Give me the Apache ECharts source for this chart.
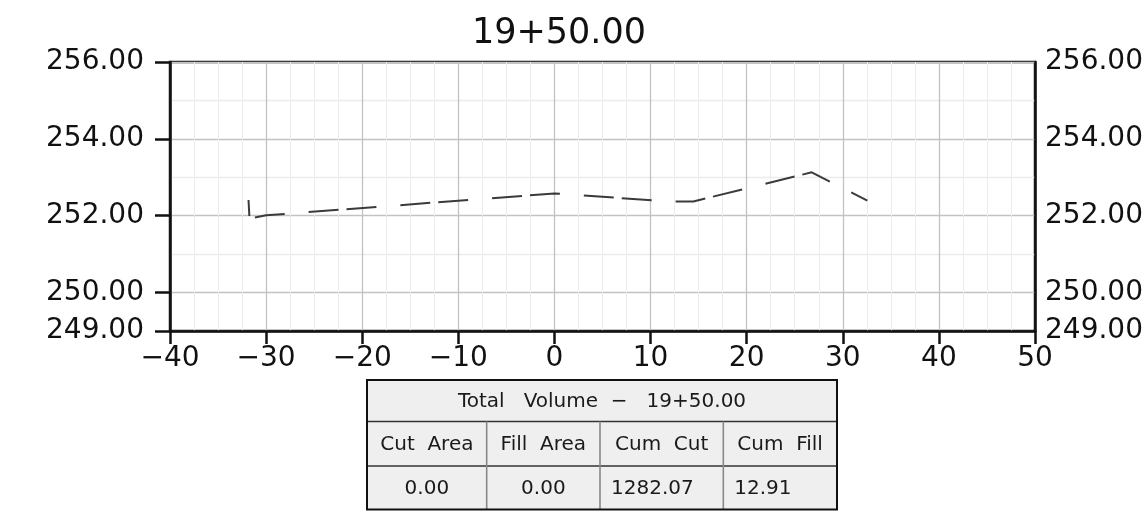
<!DOCTYPE html>
<html>
<head>
<meta charset="utf-8">
<script src="https://cdn.jsdelivr.net/npm/echarts@6/dist/echarts.min.js"></script>
<style>html,body{margin:0;padding:0;background:#fff}#c{width:1144px;height:516px}</style>
</head>
<body>
<div id="c"></div>
<script>
// ---- data ----
const chartTitle = '19+50.00';
const xTicks = [-40, -30, -20, -10, 0, 10, 20, 30, 40, 50];
const yTicks = [249, 250, 252, 254, 256];
const profileX = [-31.83, -31.73, -30.0, 0.0, 11.9, 14.45, 26.77, 32.56];
const profileY = [252.41, 251.93, 252.01, 252.58, 252.37, 252.37, 253.13, 252.39];
const tableTitle = 'Total   Volume  \u2212   19+50.00';
const tableHeaders = ['Cut  Area', 'Fill  Area', 'Cum  Cut', 'Cum  Fill'];
const tableValues = ['0.00', '0.00', '1282.07', '12.91'];

// ---- layout ----
const FONT = '"DejaVu Sans", sans-serif';
const gridL = 170, gridR = 1144 - 1035, gridT = 62, gridB = 516 - 331;
const tbl = { x0: 367, x1: 837, y0: 380, y1: 421.5, y2: 466, y3: 509.5, cols: [367, 486.7, 600, 723.3, 837] };
const valAlign = ['center', 'center', 'left', 'left'];

const fmtX = v => (v < 0 ? '\u2212' + Math.abs(v) : String(v));
const fmtY = v => Number(v).toFixed(2);

const graphics = [];
graphics.push({ type: 'rect', shape: { x: tbl.x0, y: tbl.y0, width: tbl.x1 - tbl.x0, height: tbl.y3 - tbl.y0 },
  style: { fill: '#efefef', stroke: null }, z: 10 });
[tbl.y1, tbl.y2].forEach(y => graphics.push({ type: 'line', shape: { x1: tbl.x0, y1: y, x2: tbl.x1, y2: y },
  style: { stroke: '#333', lineWidth: 1.6 }, z: 11 }));
tbl.cols.slice(1, -1).forEach(x => graphics.push({ type: 'line', shape: { x1: x, y1: tbl.y1, x2: x, y2: tbl.y3 },
  style: { stroke: '#888', lineWidth: 1.6 }, z: 11 }));
graphics.push({ type: 'rect', shape: { x: tbl.x0, y: tbl.y0, width: tbl.x1 - tbl.x0, height: tbl.y3 - tbl.y0 },
  style: { fill: null, stroke: '#111', lineWidth: 2 }, z: 12 });
graphics.push({ type: 'text', x: (tbl.x0 + tbl.x1) / 2, y: (tbl.y0 + tbl.y1) / 2 + 1, z: 13,
  style: { text: tableTitle, font: '20px ' + FONT, fill: '#1a1a1a', textAlign: 'center', textVerticalAlign: 'middle' } });
tableHeaders.forEach((t, i) => {
  const cx = (tbl.cols[i] + tbl.cols[i + 1]) / 2;
  graphics.push({ type: 'text', x: cx, y: (tbl.y1 + tbl.y2) / 2 + 1, z: 13,
    style: { text: t, font: '20px ' + FONT, fill: '#1a1a1a', textAlign: 'center', textVerticalAlign: 'middle' } });
});
tableValues.forEach((t, i) => {
  const a = valAlign[i];
  const x = a === 'center' ? (tbl.cols[i] + tbl.cols[i + 1]) / 2 : tbl.cols[i] + 11;
  graphics.push({ type: 'text', x: x, y: (tbl.y2 + tbl.y3) / 2 + 1, z: 13,
    style: { text: t, font: '20px ' + FONT, fill: '#1a1a1a', textAlign: a, textVerticalAlign: 'middle' } });
});

const chart = echarts.init(document.getElementById('c'), null, { renderer: 'canvas' });
chart.setOption({
  animation: false,
  backgroundColor: '#fff',
  title: {
    text: chartTitle, left: 554, top: 11, textAlign: 'center',
    textStyle: { fontFamily: FONT, fontSize: 35, fontWeight: 'normal', color: '#111' }
  },
  grid: {
    left: gridL, right: gridR, top: gridT, bottom: gridB,
    containLabel: false, outerBoundsMode: 'none',
    show: true, borderColor: '#111', borderWidth: 2.5, backgroundColor: 'transparent'
  },
  xAxis: [{
    type: 'value', min: xTicks[0], max: xTicks[xTicks.length - 1], interval: 10,
    axisLine: { show: true, onZero: false, lineStyle: { color: '#111', width: 2.5 } },
    axisTick: { show: true, length: 13, lineStyle: { color: '#111', width: 2.5 } },
    axisLabel: { show: true, margin: 14, fontFamily: FONT, fontSize: 28, color: '#111', formatter: fmtX,
      showMinLabel: true, showMaxLabel: true, hideOverlap: false },
    splitLine: { show: true, lineStyle: { color: '#c2c2c2', width: 1.3 } },
    minorTick: { show: false, splitNumber: 4 },
    minorSplitLine: { show: true, lineStyle: { color: '#ececec', width: 1 } }
  }],
  yAxis: [{
    type: 'value', position: 'left', min: yTicks[0], max: yTicks[yTicks.length - 1], interval: 1,
    axisLine: { show: true, onZero: false, lineStyle: { color: '#111', width: 2.5 } },
    axisTick: { show: true, length: 15, customValues: yTicks, lineStyle: { color: '#111', width: 2.5 } },
    axisLabel: { show: true, margin: 26, customValues: yTicks, fontFamily: FONT, fontSize: 28, color: '#111',
      formatter: fmtY, hideOverlap: false },
    splitLine: { show: false }
  }, {
    type: 'value', position: 'left', min: yTicks[0], max: yTicks[yTicks.length - 1], interval: 1,
    axisLine: { show: false }, axisTick: { show: false }, axisLabel: { show: false },
    splitLine: { show: true, lineStyle: { color: ['#ececec', '#c2c2c2'], width: 1.3 } }
  }, {
    type: 'value', position: 'right', min: yTicks[0], max: yTicks[yTicks.length - 1], interval: 1,
    axisLine: { show: true, onZero: false, lineStyle: { color: '#111', width: 2.5 } },
    axisTick: { show: false },
    axisLabel: { show: true, margin: 10, customValues: yTicks, fontFamily: FONT, fontSize: 28, color: '#111',
      formatter: fmtY, hideOverlap: false },
    splitLine: { show: false }
  }],
  graphic: graphics,
  series: [{
    type: 'line', xAxisIndex: 0, yAxisIndex: 0,
    data: profileX.map((x, i) => [x, profileY[i]]),
    showSymbol: false, symbol: 'none', smooth: false,
    lineStyle: { color: '#3a3a3a', width: 2, type: [30, 8, 30, 24], dashOffset: 14 },
    z: 5
  }]
});
</script>
</body>
</html>
